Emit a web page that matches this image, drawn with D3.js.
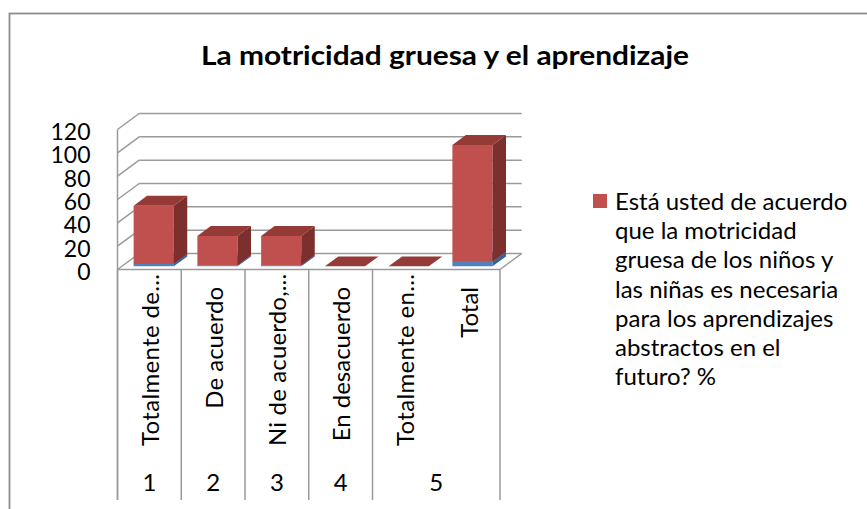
<!DOCTYPE html>
<html>
<head>
<meta charset="utf-8">
<script src="https://cdn.jsdelivr.net/npm/d3@7"></script>
<style>
  body { margin: 0; background: #fff; }
  svg { display: block; font-family: Lato, "Open Sans", sans-serif; }
</style>
</head>
<body>
<svg id="chart" width="867" height="509"></svg>
<script>
// data
var categories = ["Totalmente de...", "De acuerdo", "Ni de acuerdo,...", "En desacuerdo", "Totalmente en...", "Total"];
var groups = ["1", "2", "3", "4", "5", "5"];
var frecuencia = [2, 1, 1, 0, 0, 4];          // blue, bottom of stack
var porcentaje = [50, 25, 25, 0, 0, 100];     // red
var yTicks = [0, 20, 40, 60, 80, 100, 120];
var title = "La motricidad gruesa y el aprendizaje";
var legendLines = ["Está usted de acuerdo", "que la motricidad", "gruesa de los niños y",
                   "las niñas es necesaria", "para los aprendizajes", "abstractos en el", "futuro? %"];

var svg = d3.select('#chart');
var gridColor = "#9a9a9a";

// 3d box geometry
var DX = 21.7, DY = -16;
var left = 117.5, right = 500, floorY = 269.5, tableBottom = 500;
var y = d3.scaleLinear().domain([0, 120]).range([floorY, 129.5]);
var x = d3.scaleBand().domain(categories).range([left, right]).padding(0);
var bw = x.bandwidth();
var barW = bw * 0.63;
var f0 = 0.2, f1 = 0.82;

function pt(px, py, f) { return [px + f * DX, py + f * DY]; }
function poly(pts) { return pts.map(function (p) { return p[0].toFixed(2) + "," + p[1].toFixed(2); }).join(" "); }

// frame
svg.append('rect').attr('x', 9.5).attr('y', 13.5).attr('width', 900).attr('height', 600)
    .attr('fill', 'none').attr('stroke', '#8c8c8c').attr('stroke-width', 1.8);

// title
svg.append('text').attr('x', 445).attr('y', 64.5).attr('text-anchor', 'middle')
    .attr('font-size', 27).attr('font-weight', 'bold')
    .attr('textLength', 488).attr('lengthAdjust', 'spacingAndGlyphs').text(title);

// gridlines: back wall + side wall
var grid = svg.append('g').attr('stroke', gridColor).attr('stroke-width', 1.5).attr('fill', 'none');
yTicks.forEach(function (t) {
    var a = pt(left, y(t), 1), b = pt(right, y(t), 1);
    grid.append('line').attr('x1', a[0]).attr('y1', a[1]).attr('x2', b[0]).attr('y2', b[1]);
    grid.append('line').attr('x1', left).attr('y1', y(t)).attr('x2', a[0]).attr('y2', a[1]);
});
grid.append('line').attr('x1', left).attr('y1', y(120)).attr('x2', left).attr('y2', tableBottom);
grid.append('line').attr('x1', left).attr('y1', floorY).attr('x2', right).attr('y2', floorY);
var fr = pt(right, floorY, 1);
grid.append('line').attr('x1', right).attr('y1', floorY).attr('x2', fr[0]).attr('y2', fr[1]);

// y axis labels
var yAxis = d3.axisLeft(y).tickValues(yTicks).tickSize(0).tickPadding(27);
var ga = svg.append('g').attr('transform', 'translate(' + left + ',2.5)').call(yAxis);
ga.select('.domain').remove();
ga.selectAll('text').attr('font-size', 23).attr('font-family', 'Lato, sans-serif').attr('fill', '#000');

// bars
var colors = {
    blue: { front: "#4f81bd", side: "#3a6394", top: "#406ca2" },
    red: { front: "#c0504d", side: "#7c2f2d", top: "#943a37" }
};
function box(g, cat, v0, v1, c) {
    var xl = x(cat) + (bw - barW) / 2, xr = xl + barW;
    var yb = y(v0), yt = y(v1);
    if (v1 > v0) {
        g.append('polygon').attr('points', poly([pt(xl, yb, f0), pt(xr, yb, f0), pt(xr, yt, f0), pt(xl, yt, f0)])).attr('fill', c.front);
        g.append('polygon').attr('points', poly([pt(xr, yb, f0), pt(xr, yb, f1), pt(xr, yt, f1), pt(xr, yt, f0)])).attr('fill', c.side);
    }
    g.append('polygon').attr('points', poly([pt(xl, yt, f0), pt(xr, yt, f0), pt(xr, yt, f1), pt(xl, yt, f1)])).attr('fill', c.top);
}
var bars = svg.append('g');
categories.forEach(function (cat, i) {
    var g = bars.append('g');
    if (frecuencia[i] > 0) box(g, cat, 0, frecuencia[i], colors.blue);
    box(g, cat, frecuencia[i], frecuencia[i] + porcentaje[i], colors.red);
});

// category table
var table = svg.append('g').attr('stroke', gridColor).attr('stroke-width', 1.5);
var bounds = [left];
for (var i = 1; i < categories.length; i++)
    if (groups[i] != groups[i - 1]) bounds.push(x(categories[i]));
bounds.push(right);
bounds.forEach(function (bx) {
    table.append('line').attr('x1', bx).attr('y1', floorY).attr('x2', bx).attr('y2', tableBottom);
});

categories.forEach(function (cat) {
    var cx = x(cat) + bw / 2;
    var cut = cat.slice(-3) == "...";
    var t = svg.append('text')
        .attr('transform', 'translate(' + (cx + 1) + ',' + (cut ? 446 : 287) + ') rotate(-90)')
        .attr('text-anchor', cut ? 'start' : 'end')
        .attr('dy', '0.35em')
        .attr('font-size', 24)
        .text(cat);
    // excel spreads the cut labels over the whole cell
    if (cut) {
        var len = t.node().getComputedTextLength();
        t.attr('letter-spacing', Math.max(0, (172 - len) / (cat.length - 1)).toFixed(2) + 'px');
    }
});

var groupNames = Array.from(new Set(groups));
groupNames.forEach(function (gname) {
    var cats = categories.filter(function (c, i) { return groups[i] == gname; });
    var gx0 = x(cats[0]), gx1 = x(cats[cats.length - 1]) + bw;
    svg.append('text').attr('x', (gx0 + gx1) / 2).attr('y', 491).attr('text-anchor', 'middle')
        .attr('font-size', 24).text(gname);
});

// legend
svg.append('rect').attr('x', 593).attr('y', 194).attr('width', 14).attr('height', 14).attr('fill', colors.red.front);
var lt = svg.append('text').attr('font-size', 24);
legendLines.forEach(function (line, i) {
    lt.append('tspan').attr('x', 615).attr('y', 210 + i * 29.2).text(line);
});
</script>
</body>
</html>
